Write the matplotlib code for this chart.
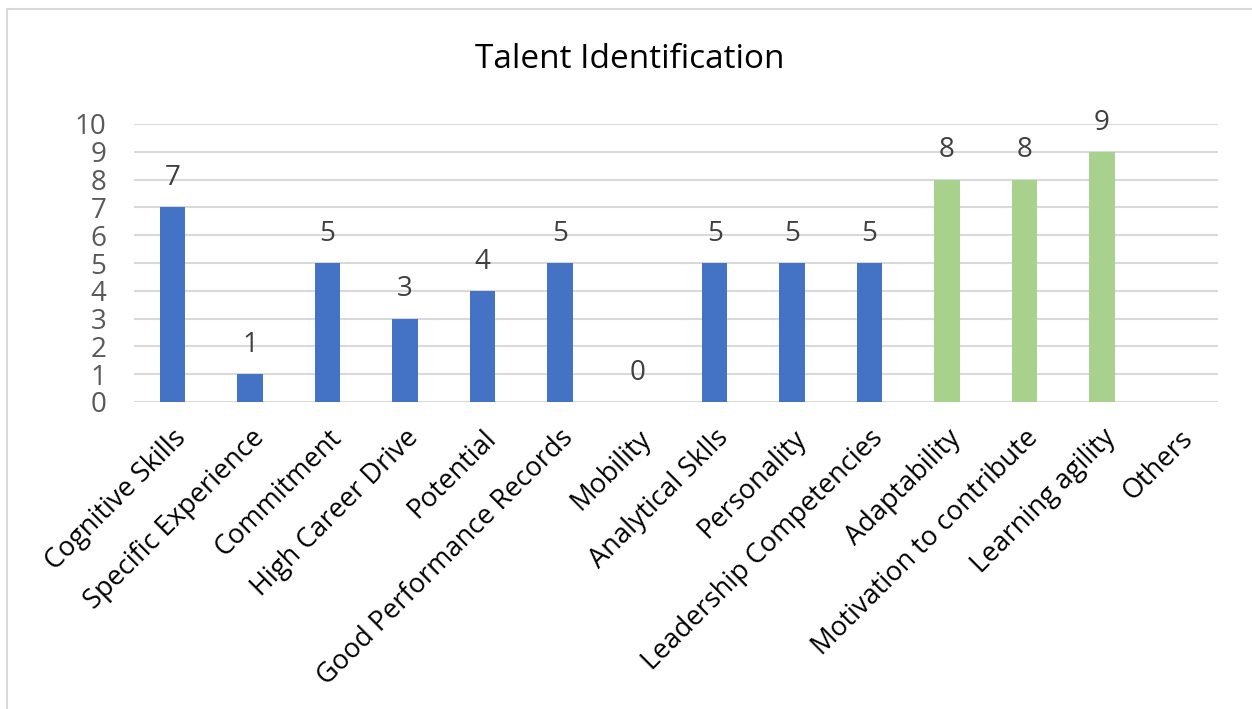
import matplotlib
matplotlib.use("Agg")
import matplotlib.pyplot as plt
import numpy as np
from matplotlib.lines import Line2D

categories = ["Cognitive Skills", "Specific Experience", "Commitment", "High Career Drive",
              "Potential", "Good Performance Records", "Mobility", "Analytical Sklls",
              "Personality", "Leadership Competencies", "Adaptability",
              "Motivation to contribute", "Learning agility", "Others"]
values = [7, 1, 5, 3, 4, 5, 0, 5, 5, 5, 8, 8, 9, np.nan]
colors = ["#4472C4"] * 10 + ["#A9D18E"] * 3 + ["#4472C4"]

plt.rcParams['font.family'] = ['Open Sans', 'DejaVu Sans']

fig = plt.figure(figsize=(12.52, 7.09), dpi=100)
ax = fig.add_axes([134 / 1252, 1 - 402 / 709, (1218 - 134) / 1252, (402 - 124) / 709])

x = np.arange(len(categories))
ax.bar(x, values, width=0.33, color=colors, zorder=3)
for xi, v in zip(x, values):
    if not np.isnan(v):
        ax.text(xi, v + 0.55, str(int(v)), ha="center", va="bottom",
                fontsize=20, color="#404040")

ax.set_xlim(-0.5, len(categories) - 0.5)
ax.set_ylim(0, 10)
ax.set_yticks(range(0, 11))
ax.yaxis.grid(True, color="#D9D9D9", linewidth=1.5, zorder=0)
ax.tick_params(axis="y", length=0, labelsize=20, labelcolor="#595959", pad=20)
ax.tick_params(axis="x", length=0, pad=16)
ax.set_xticks(x)
ax.set_xticklabels(categories, rotation=45, ha="right", rotation_mode="anchor",
                   fontsize=19.5, color="black")
for s in ax.spines.values():
    s.set_visible(False)

fig.text((474 + 786) / 2 / 1252, 1 - 60 / 709, "Talent Identification",
         ha="center", va="center", fontsize=24, color="black")

# chart frame
fig.add_artist(Line2D([7 / 1252, 7 / 1252], [0, 1 - 9 / 709], color="#D9D9D9", linewidth=1.5,
                      transform=fig.transFigure))
fig.add_artist(Line2D([7 / 1252, 1], [1 - 9 / 709, 1 - 9 / 709], color="#D9D9D9", linewidth=1.5,
                      transform=fig.transFigure))

fig.savefig("out.png", dpi=100)
